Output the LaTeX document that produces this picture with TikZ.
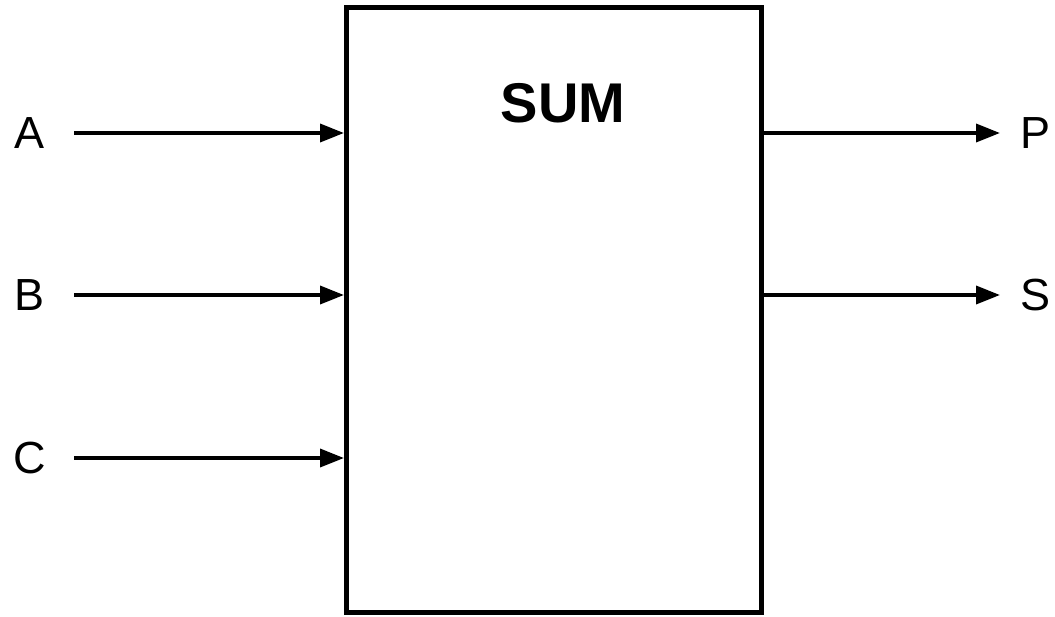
\documentclass[tikz,border=0pt]{standalone}
\usepackage{fontspec}
\setmainfont{Liberation Sans}
\usetikzlibrary{arrows.meta}
\begin{document}
\begin{tikzpicture}[x=1pt,y=-1pt,
  port/.style={font=\fontsize{45}{50}\selectfont},
  wire/.style={line width=3.5pt,-{Triangle[length=24pt,width=18pt]}},
  block/.style={draw,line width=5pt,minimum width=415pt,minimum height=605pt,inner sep=0pt}]
\useasboundingbox (0,0) rectangle (1055,616);
% the adder block and its title
\node[block] (sum) at (554,310) {};
\node[font=\bfseries\fontsize{56}{60}\selectfont] (title) at (563,103) {SUM};
% input labels and wire start points
\node[port] (a) at (30,133) {A};
\node[port] (b) at (30,295) {B};
\node[port] (c) at (30,458) {C};
\coordinate (afrom) at (74,133);
\coordinate (bfrom) at (74,295);
\coordinate (cfrom) at (74,458);
\draw[wire] (afrom) -- (afrom -| sum.west);
\draw[wire] (bfrom) -- (bfrom -| sum.west);
\draw[wire] (cfrom) -- (cfrom -| sum.west);
% output labels and wire end points
\node[port] (p) at (1035,133) {P};
\node[port] (s) at (1035,295) {S};
\coordinate (pto) at (1000,133);
\coordinate (sto) at (1000,295);
\draw[wire] (pto -| sum.east) -- (pto);
\draw[wire] (sto -| sum.east) -- (sto);
\end{tikzpicture}
\end{document}
